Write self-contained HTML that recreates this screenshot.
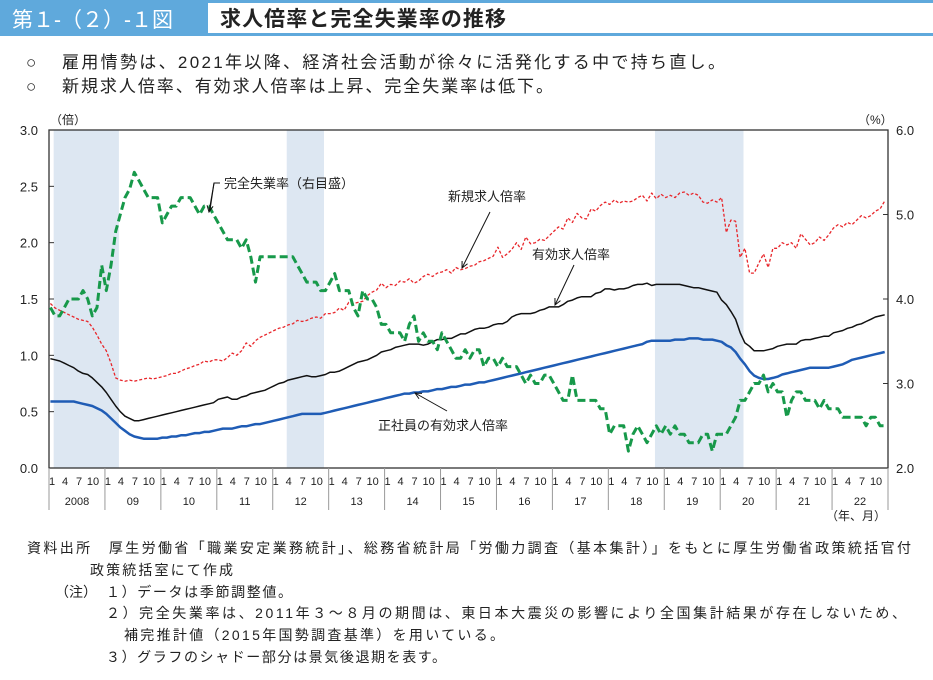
<!DOCTYPE html>
<html><head><meta charset="utf-8"><style>
html,body{margin:0;padding:0;background:#fff;}
svg{display:block;font-family:"Liberation Sans","Noto Sans CJK JP",sans-serif;}
</style></head><body>
<svg id="c" width="933" height="680" viewBox="0 0 933 680" xmlns="http://www.w3.org/2000/svg">
<rect x="0" y="0" width="933" height="36" fill="#5fa9dc"/>
<rect x="208" y="3" width="725" height="30" fill="#fff"/>
<text x="12" y="27" font-size="21" fill="#fff" font-family="Liberation Sans,Noto Sans CJK JP,sans-serif">第１-（２）-１図</text>
<text x="220" y="26" font-size="21" font-weight="bold" fill="#222" textLength="286" font-family="Liberation Sans,Noto Sans CJK JP,sans-serif">求人倍率と完全失業率の推移</text>
<text x="26" y="68" font-size="17" fill="#222" font-family="Liberation Sans,Noto Sans CJK JP,sans-serif">○</text>
<text x="62" y="68" font-size="17" fill="#222" textLength="663" font-family="Liberation Sans,Noto Sans CJK JP,sans-serif">雇用情勢は、2021年以降、経済社会活動が徐々に活発化する中で持ち直し。</text>
<text x="26" y="92" font-size="17" fill="#222" font-family="Liberation Sans,Noto Sans CJK JP,sans-serif">○</text>
<text x="62" y="92" font-size="17" fill="#222" textLength="491" font-family="Liberation Sans,Noto Sans CJK JP,sans-serif">新規求人倍率、有効求人倍率は上昇、完全失業率は低下。</text>
<g id="plot"></g>
<g font-size="14" fill="#222" font-family="Liberation Sans,Noto Sans CJK JP,sans-serif">
<text x="27" y="553" textLength="884">資料出所　厚生労働省「職業安定業務統計」、総務省統計局「労働力調査（基本集計）」をもとに厚生労働省政策統括官付</text>
<text x="90" y="575" textLength="143">政策統括室にて作成</text>
<text x="55" y="597">（注）</text>
<text x="106" y="597" textLength="186">１）データは季節調整値。</text>
<text x="106" y="618" textLength="800">２）完全失業率は、2011年３～８月の期間は、東日本大震災の影響により全国集計結果が存在しないため、</text>
<text x="124" y="640" textLength="380">補完推計値（2015年国勢調査基準）を用いている。</text>
<text x="106" y="662" textLength="340">３）グラフのシャドー部分は景気後退期を表す。</text>
</g>
</svg>
<script>
const years = ["2008","09","10","11","12","13","14","15","16","17","18","19","20","21","22"];
const leftTicks = [0.0,0.5,1.0,1.5,2.0,2.5,3.0];
const rightTicks = [2.0,3.0,4.0,5.0,6.0];
const recessions = [[1,14],[51,58],[130,148]];
const unemployment = [
3.9,3.8,3.8,3.9,4.0,4.0,4.0,4.1,4.0,3.8,3.9,4.4,
4.1,4.4,4.8,5.0,5.2,5.3,5.5,5.4,5.3,5.2,5.2,5.2,
4.9,5.0,5.1,5.1,5.2,5.2,5.2,5.1,5.0,5.1,5.1,5.0,
4.9,4.8,4.7,4.7,4.7,4.6,4.7,4.5,4.2,4.5,4.5,4.5,
4.5,4.5,4.5,4.5,4.5,4.4,4.3,4.2,4.2,4.2,4.1,4.1,
4.2,4.3,4.1,4.1,4.1,3.9,3.8,4.1,4.0,4.0,3.9,3.7,
3.7,3.6,3.6,3.6,3.5,3.7,3.8,3.5,3.6,3.5,3.5,3.4,
3.6,3.5,3.4,3.3,3.3,3.4,3.3,3.4,3.4,3.2,3.3,3.3,
3.2,3.3,3.2,3.2,3.2,3.1,3.0,3.1,3.0,3.0,3.1,3.1,
3.0,2.9,2.8,2.8,3.1,2.8,2.8,2.8,2.8,2.8,2.7,2.7,
2.4,2.5,2.5,2.5,2.2,2.4,2.5,2.4,2.3,2.4,2.5,2.4,
2.5,2.4,2.5,2.4,2.4,2.3,2.3,2.3,2.4,2.4,2.2,2.4,
2.4,2.4,2.5,2.6,2.8,2.8,2.9,3.0,3.0,3.1,2.9,3.0,
2.9,2.9,2.6,2.8,2.9,2.9,2.8,2.8,2.8,2.7,2.8,2.7,
2.7,2.7,2.6,2.6,2.6,2.6,2.6,2.5,2.6,2.6,2.5,2.5];
const activeRatio = [
0.97,0.96,0.95,0.93,0.91,0.89,0.86,0.84,0.83,0.80,0.76,0.72,
0.67,0.61,0.55,0.50,0.46,0.44,0.42,0.42,0.43,0.44,0.45,0.46,
0.47,0.48,0.49,0.50,0.51,0.52,0.53,0.54,0.55,0.56,0.57,0.58,
0.61,0.62,0.63,0.61,0.61,0.63,0.64,0.66,0.67,0.68,0.69,0.71,
0.73,0.75,0.76,0.78,0.79,0.80,0.81,0.82,0.81,0.81,0.82,0.83,
0.85,0.85,0.86,0.88,0.90,0.92,0.94,0.95,0.96,0.98,1.00,1.03,
1.04,1.05,1.07,1.08,1.09,1.10,1.10,1.10,1.09,1.10,1.12,1.14,
1.14,1.15,1.15,1.17,1.19,1.19,1.21,1.23,1.24,1.24,1.25,1.27,
1.28,1.28,1.30,1.34,1.36,1.37,1.37,1.37,1.38,1.40,1.41,1.43,
1.43,1.43,1.45,1.48,1.49,1.51,1.52,1.52,1.52,1.55,1.56,1.59,
1.59,1.58,1.59,1.59,1.60,1.62,1.63,1.63,1.64,1.62,1.63,1.63,
1.63,1.63,1.63,1.63,1.62,1.61,1.60,1.60,1.59,1.58,1.57,1.56,
1.49,1.45,1.39,1.32,1.20,1.11,1.08,1.04,1.04,1.04,1.05,1.06,
1.08,1.09,1.10,1.10,1.10,1.13,1.14,1.14,1.15,1.16,1.17,1.17,
1.20,1.21,1.22,1.24,1.25,1.27,1.28,1.30,1.32,1.34,1.35,1.36];
const regularRatio = [
0.59,0.59,0.59,0.59,0.59,0.59,0.58,0.57,0.56,0.55,0.53,0.51,
0.48,0.44,0.40,0.36,0.33,0.30,0.28,0.27,0.26,0.26,0.26,0.26,
0.27,0.27,0.28,0.28,0.29,0.29,0.30,0.31,0.31,0.32,0.32,0.33,
0.34,0.35,0.35,0.35,0.36,0.37,0.37,0.38,0.39,0.39,0.40,0.41,
0.42,0.43,0.44,0.45,0.46,0.47,0.48,0.48,0.48,0.48,0.48,0.49,
0.50,0.51,0.52,0.53,0.54,0.55,0.56,0.57,0.58,0.59,0.60,0.61,
0.62,0.63,0.64,0.65,0.66,0.66,0.67,0.67,0.68,0.68,0.69,0.70,
0.70,0.71,0.72,0.72,0.73,0.74,0.74,0.75,0.76,0.76,0.77,0.78,
0.79,0.80,0.81,0.82,0.83,0.84,0.85,0.86,0.87,0.88,0.89,0.90,
0.91,0.92,0.93,0.94,0.95,0.96,0.97,0.98,0.99,1.00,1.01,1.02,
1.03,1.04,1.05,1.06,1.07,1.08,1.09,1.10,1.12,1.13,1.13,1.13,
1.13,1.13,1.14,1.14,1.14,1.15,1.15,1.15,1.14,1.14,1.14,1.13,
1.12,1.09,1.07,1.03,0.97,0.92,0.86,0.82,0.80,0.79,0.79,0.80,
0.81,0.83,0.84,0.85,0.86,0.87,0.88,0.89,0.89,0.89,0.89,0.89,
0.90,0.91,0.92,0.94,0.96,0.97,0.98,0.99,1.00,1.01,1.02,1.03];
const newRatio = [
1.46,1.42,1.40,1.38,1.36,1.34,1.32,1.31,1.30,1.25,1.18,1.10,
1.04,0.93,0.80,0.78,0.77,0.78,0.77,0.78,0.79,0.80,0.79,0.80,
0.81,0.82,0.84,0.84,0.86,0.88,0.89,0.91,0.92,0.95,0.94,0.96,
0.96,0.95,0.98,1.02,1.00,1.04,1.11,1.08,1.13,1.16,1.18,1.20,
1.22,1.24,1.25,1.27,1.28,1.31,1.30,1.31,1.33,1.34,1.33,1.37,
1.37,1.38,1.42,1.40,1.47,1.46,1.47,1.48,1.53,1.56,1.58,1.64,
1.60,1.63,1.62,1.66,1.65,1.68,1.64,1.66,1.70,1.72,1.70,1.73,
1.74,1.76,1.73,1.78,1.76,1.77,1.79,1.80,1.83,1.84,1.86,1.88,
1.96,1.87,1.90,1.94,2.00,1.94,2.05,1.99,2.00,2.03,2.02,2.06,
2.10,2.14,2.12,2.22,2.18,2.26,2.22,2.21,2.30,2.28,2.33,2.36,
2.34,2.38,2.35,2.37,2.36,2.37,2.40,2.42,2.37,2.44,2.39,2.43,
2.40,2.42,2.40,2.44,2.45,2.42,2.44,2.42,2.36,2.35,2.38,2.36,
2.40,2.09,2.20,2.19,1.87,1.95,1.73,1.73,1.82,1.90,1.78,1.95,
1.95,2.00,1.98,2.00,1.95,2.08,2.03,1.98,2.00,2.05,2.02,2.07,
2.13,2.16,2.14,2.18,2.16,2.20,2.24,2.22,2.24,2.28,2.30,2.37];
const monthLabels = [1,4,7,10];

const NS="http://www.w3.org/2000/svg";
const L=49,R=888,T=130,B=468;
const monthW=(R-L)/180;
const xOf=i=>L+(i+0.3)*monthW;
const yL=v=>B-(v-0)/3*(B-T);
const yR=v=>B-(v-2)/4*(B-T);
const g=document.getElementById('plot');
function mk(tag,attrs,parent){const e=document.createElementNS(NS,tag);for(const k in attrs)e.setAttribute(k,attrs[k]);(parent||g).appendChild(e);return e;}

recessions.forEach(r=>{
  const e=mk('rect',{x:L+r[0]*monthW,y:T,width:(r[1]-r[0]+1)*monthW,height:B-T,fill:'#dde7f2'});
  
  
});
const fr=mk('rect',{x:L,y:T,width:R-L,height:B-T,fill:'none',stroke:'#333','stroke-width':1.3});


leftTicks.forEach(v=>{
  const y=yL(v);
  const t=mk('line',{x1:L,x2:L+5,y1:y,y2:y,stroke:'#333'});
  
  
  const tx=mk('text',{x:38,y:y+5,'font-size':13,'text-anchor':'end',fill:'#222'});
  tx.textContent=v.toFixed(1);
  
  
});
rightTicks.forEach(v=>{
  const y=yR(v);
  const t=mk('line',{x1:R-5,x2:R,y1:y,y2:y,stroke:'#333'});
  
  
  const tx=mk('text',{x:896,y:y+5,'font-size':13,fill:'#222'});
  tx.textContent=v.toFixed(1);
  
  
});
const lu=mk('text',{x:50,y:124,'font-size':12,fill:'#222'});lu.textContent='（倍）';


const ru=mk('text',{x:858,y:124,'font-size':12,fill:'#222'});ru.textContent='（%）';


const xu=mk('text',{x:886,y:520,'font-size':12,'text-anchor':'end',fill:'#222'});xu.textContent='（年、月）';


const labelOff=[3,16,30,44];
years.forEach((yr,k)=>{
  const x0=L+k*12*monthW;
  const s=mk('line',{x1:x0,x2:x0,y1:B,y2:510,stroke:'#999'});
  
  
  monthLabels.forEach((m,j)=>{
    const t=mk('text',{x:x0+labelOff[j],y:485,'font-size':11,'text-anchor':'middle',fill:'#222'});
    t.textContent=m;
    
    
  });
  const yt=mk('text',{x:x0+6*monthW,y:505,'font-size':11,'text-anchor':'middle',fill:'#222'});
  yt.textContent=yr;
  
  
});
const se=mk('line',{x1:R,x2:R,y1:B,y2:510,stroke:'#999'});


function series(arr,yf,style,name){
  const p=mk('polyline',Object.assign({points:arr.map((v,i)=>xOf(i).toFixed(1)+','+yf(v).toFixed(1)).join(' '),fill:'none','stroke-linejoin':'round'},style));
  
  
}
series(newRatio,yL,{stroke:'#e8262b','stroke-width':1.3,'stroke-dasharray':'3,2'},'new-openings-ratio-line');
series(activeRatio,yL,{stroke:'#111','stroke-width':1.5},'active-openings-ratio-line');
series(regularRatio,yL,{stroke:'#1f5cb5','stroke-width':2.5},'regular-employee-ratio-line');
series(unemployment,yR,{stroke:'#17994a','stroke-width':3,'stroke-dasharray':'8,4'},'unemployment-rate-line');
function ann(txt,x,y,name){const t=mk('text',{x:x,y:y,'font-size':13,fill:'#222'});t.textContent=txt;}
function arrow(x1,y1,x2,y2,name){
  const l=mk('line',{x1:x1,y1:y1,x2:x2,y2:y2,stroke:'#111','stroke-width':1});
  
  
  const a=Math.atan2(y2-y1,x2-x1),s=7;
  const h=mk('polyline',{points:`${x2-s*Math.cos(a-0.45)},${y2-s*Math.sin(a-0.45)} ${x2},${y2} ${x2-s*Math.cos(a+0.45)},${y2-s*Math.sin(a+0.45)}`,fill:'none',stroke:'#111','stroke-width':1});
  
  
}
ann('完全失業率（右目盛）',224,188,'unemployment-annotation');
const ul=mk('polyline',{points:'220,183 214,183 210,210',fill:'none',stroke:'#111'});


arrow(214,183,209,212,'unemployment-arrow');
ann('新規求人倍率',448,201,'new-openings-annotation');
arrow(490,212,462,268,'new-openings-arrow');
ann('有効求人倍率',532,259,'active-openings-annotation');
arrow(574,265,555,305,'active-openings-arrow');
ann('正社員の有効求人倍率',378,430,'regular-employee-annotation');
arrow(447,411,415,393,'regular-employee-arrow');
</script>
</body></html>
